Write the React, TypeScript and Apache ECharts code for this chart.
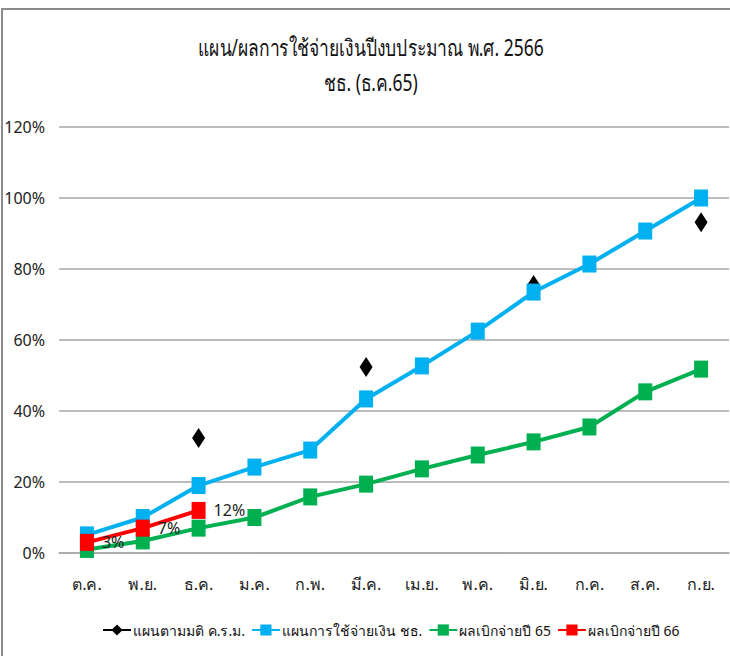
import React, { useEffect, useRef } from "react";
import * as echarts from "echarts";

const categories = ["ต.ค.", "พ.ย.", "ธ.ค.", "ม.ค.", "ก.พ.", "มี.ค.", "เม.ย.", "พ.ค.", "มิ.ย.", "ก.ค.", "ส.ค.", "ก.ย."];
const cabinetPlan = [null, null, 32.4, null, null, 52.4, null, null, 75.5, null, null, 93.2];
const spendPlan = [5.1, 10, 19, 24.2, 29, 43.4, 52.7, 62.5, 73.5, 81.4, 90.7, 100];
const actual65 = [1, 3.4, 7, 10, 15.8, 19.4, 23.7, 27.6, 31.3, 35.5, 45.4, 51.8];
const actual66 = [3, 7, 12, null, null, null, null, null, null, null, null, null];
const yTicks = [0, 20, 40, 60, 80, 100, 120];

const seriesNames = ["แผนตามมติ ค.ร.ม.", "แผนการใช้จ่ายเงิน ชธ.", "ผลเบิกจ่ายปี 65", "ผลเบิกจ่ายปี 66"];
const titleLines = ["แผน/ผลการใช้จ่ายเงินปีงบประมาณ พ.ศ. 2566", "ชธ. (ธ.ค.65)"];

const FONT = "'Liberation Sans Narrow', 'Noto Sans', sans-serif";

export default function App() {
  const ref = useRef<HTMLDivElement>(null);
  useEffect(() => {
    const chart = echarts.init(ref.current!, null, { renderer: "svg" });
    chart.setOption({
      animation: false,
      backgroundColor: "#ffffff",
      textStyle: { fontFamily: FONT },
      graphic: [
        {
          type: "rect",
          shape: { x: 2, y: 9, width: 760, height: 700 },
          style: { fill: "none", stroke: "#8c8c8c", lineWidth: 2 },
          z: -1,
        },
        {
          type: "group",
          x: 371,
          y: 47,
          scaleX: 0.76,
          children: titleLines.map((t, i) => ({
            type: "text",
            x: 0,
            y: i * 35,
            style: {
              text: t,
              fontFamily: FONT,
              fontSize: 23,
              fill: "#111",
              textAlign: "center",
              textVerticalAlign: "middle",
            },
          })),
        },
      ],
      legend: {
        bottom: 14,
        left: 97,
        itemWidth: 28,
        itemHeight: 14,
        itemGap: 6,
        textStyle: { fontFamily: FONT, fontSize: 14, color: "#111", padding: [0, 0, 0, -3] },
        data: seriesNames,
      },
      grid: { left: 59, right: 1, top: 127, bottom: 103 },
      xAxis: {
        type: "category",
        data: categories,
        boundaryGap: true,
        axisLine: { show: true, lineStyle: { color: "#a6a6a6", width: 1.5 } },
        axisTick: { show: false },
        axisLabel: { fontFamily: FONT, fontSize: 16, color: "#222", margin: 23 },
      },
      yAxis: {
        type: "value",
        min: 0,
        max: 120,
        interval: 20,
        axisLine: { show: false },
        axisTick: { show: false },
        splitLine: { lineStyle: { color: "#a6a6a6", width: 1.5 } },
        axisLabel: { fontFamily: FONT, fontSize: 16, color: "#222", margin: 14, formatter: (v: number) => (yTicks.includes(v) ? v + "%" : "") },
      },
      series: [
        {
          name: seriesNames[0],
          type: "line",
          data: cabinetPlan,
          connectNulls: false,
          lineStyle: { color: "#000", width: 4 },
          itemStyle: { color: "#000" },
          symbol: "diamond",
          symbolSize: [13, 20],
          showAllSymbol: true,
          z: 1,
        },
        {
          name: seriesNames[1],
          type: "line",
          data: spendPlan,
          lineStyle: { color: "#00b0f0", width: 4 },
          itemStyle: { color: "#00b0f0" },
          symbol: "rect",
          symbolSize: [14, 17],
          showAllSymbol: true,
          z: 2,
        },
        {
          name: seriesNames[2],
          type: "line",
          data: actual65,
          lineStyle: { color: "#00b050", width: 4 },
          itemStyle: { color: "#00b050" },
          symbol: "rect",
          symbolSize: [14, 17],
          showAllSymbol: true,
          z: 3,
        },
        {
          name: seriesNames[3],
          type: "line",
          data: actual66,
          lineStyle: { color: "#ff0000", width: 4 },
          itemStyle: { color: "#ff0000" },
          symbol: "rect",
          symbolSize: [14, 17],
          showAllSymbol: true,
          z: 4,
          label: {
            show: true,
            position: "right",
            distance: 8,
            fontFamily: FONT,
            fontSize: 16,
            color: "#222",
            formatter: (p: any) => p.value + "%",
          },
        },
      ],
    });
    return () => chart.dispose();
  }, []);
  return <div ref={ref} style={{ position: "absolute", left: 0, top: 0, width: 730, height: 656 }} />;
}
